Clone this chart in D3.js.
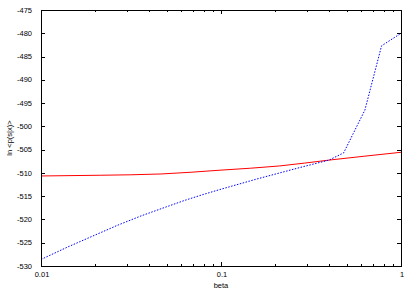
<!DOCTYPE html>
<html>
<head>
<meta charset="utf-8">
<script src="https://cdn.jsdelivr.net/npm/d3@7"></script>
<style>
	body { margin: 0; background: #fff; }
	text { font-family: "Liberation Sans", Arial, sans-serif; font-size: 7.5px; fill: #000; }
</style>
</head>
<body>
<svg id="chart" width="415" height="291"></svg>
<script>
	// values
	var beta_red = [0.01, 0.0215, 0.0464, 0.1, 0.212, 0.398, 0.63, 1];
	var lnp_red = [-510.66, -510.5, -510.23, -509.4, -508.5, -507.25, -506.4, -505.57];

	var beta_blue = [0.01, 0.0141, 0.0197, 0.0268, 0.0359, 0.0476, 0.0623, 0.0794, 0.1,
		0.1585, 0.274, 0.398, 0.48, 0.63, 0.78, 1];
	var lnp_blue = [-528.6, -525.9, -523.45, -521.2, -519.25, -517.55, -515.95, -514.65, -513.5,
		-511.3, -508.85, -507.25, -505.7, -496.5, -482.7, -480];

	var y_ticks = [-475, -480, -485, -490, -495, -500, -505, -510, -515, -520, -525, -530];
	var x_ticks = [0.01, 0.1, 1];
	var x_labels = ["0.01", "0.1", "1"];

	var svg = d3.select("svg#chart"),
	margin = {top: 10, right: 14, bottom: 25, left: 41},
	width = +svg.attr("width") - margin.left - margin.right,
	height = +svg.attr("height") - margin.top - margin.bottom;

	var x = d3.scaleLog().domain([0.01, 1]).range([0, width]);
	var y = d3.scaleLinear().domain([-530, -475]).range([height, 0]);

	var g = svg.append("g")
	.attr("transform", "translate(" + margin.left + "," + margin.top + ")");

	// minor ticks 2..9 per decade
	var minor = [];
	[0.01, 0.1].forEach(function(d){
		for (var i = 2; i < 10; i++) minor.push(d * i);
	});

	function tick_lines(sel, data, len, top){
		sel.selectAll(null)
		.data(data)
		.enter().append("line")
		.attr("x1", function(d){ return Math.round(x(d)) + .5; })
		.attr("x2", function(d){ return Math.round(x(d)) + .5; })
		.attr("y1", top ? 0 : height)
		.attr("y2", top ? len : height - len)
		.attr("stroke", "#000");
	}

	var ticks = g.append("g").attr("class", "ticks");
	tick_lines(ticks, x_ticks, 4, false);
	tick_lines(ticks, x_ticks, 4, true);
	tick_lines(ticks, minor, 2, false);
	tick_lines(ticks, minor, 2, true);

	ticks.selectAll(null)
	.data(y_ticks)
	.enter().append("line")
	.attr("x1", 0).attr("x2", 4)
	.attr("y1", function(d){ return Math.round(y(d)) + .5; })
	.attr("y2", function(d){ return Math.round(y(d)) + .5; })
	.attr("stroke", "#000");

	ticks.selectAll(null)
	.data(y_ticks)
	.enter().append("line")
	.attr("x1", width).attr("x2", width - 4)
	.attr("y1", function(d){ return Math.round(y(d)) + .5; })
	.attr("y2", function(d){ return Math.round(y(d)) + .5; })
	.attr("stroke", "#000");

	// tick labels
	g.selectAll("text.ylab")
	.data(y_ticks)
	.enter().append("text")
	.attr("class", "ylab")
	.attr("x", -9)
	.attr("y", function(d){ return y(d); })
	.attr("dy", "0.35em")
	.attr("text-anchor", "end")
	.text(function(d){ return d; });

	g.selectAll("text.xlab")
	.data(x_ticks)
	.enter().append("text")
	.attr("class", "xlab")
	.attr("x", function(d){ return x(d) + 1; })
	.attr("y", height + 11)
	.attr("text-anchor", "middle")
	.text(function(d, i){ return x_labels[i]; });

	g.append("text")
	.attr("x", width / 2)
	.attr("y", height + 22)
	.attr("text-anchor", "middle")
	.text("beta");

	g.append("text")
	.attr("transform", "translate(-29," + (height / 2) + ") rotate(-90)")
	.attr("text-anchor", "middle")
	.text("ln <p(s|x)>");

	// curves
	var line = d3.line()
	.x(function(d){ return x(d[0]); })
	.y(function(d){ return y(d[1]); });

	g.append("path")
	.datum(d3.zip(beta_red, lnp_red))
	.attr("fill", "none")
	.attr("stroke", "#ff0000")
	.attr("stroke-width", 1)
	.attr("d", line.curve(d3.curveMonotoneX));

	g.append("path")
	.datum(d3.zip(beta_blue, lnp_blue))
	.attr("fill", "none")
	.attr("stroke", "#0000ff")
	.attr("stroke-width", 1)
	.attr("stroke-dasharray", "1.5,1.5")
	.attr("d", line.curve(d3.curveLinear));

	// frame
	g.append("rect")
	.attr("x", .5).attr("y", .5)
	.attr("width", width).attr("height", height)
	.attr("fill", "none")
	.attr("stroke", "#000")
	.attr("stroke-width", 1);
</script>
</body>
</html>
